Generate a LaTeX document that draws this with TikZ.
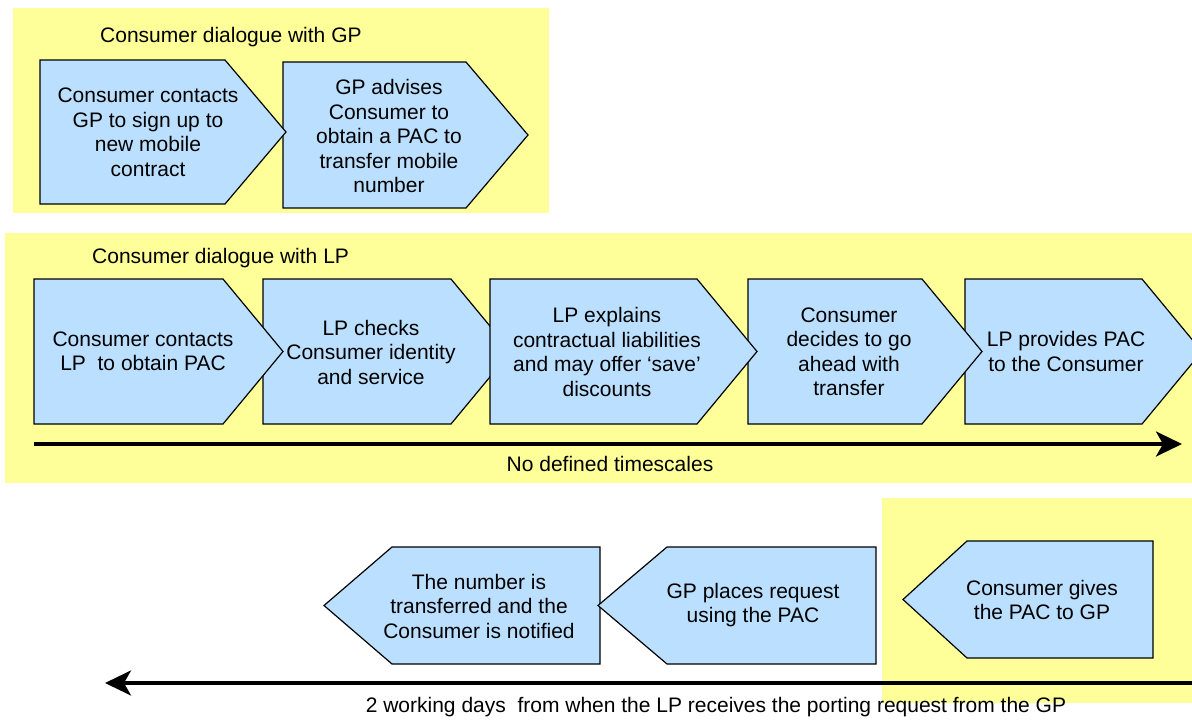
\documentclass[tikz,border=0pt]{standalone}
\usepackage{fontspec}
\setmainfont{Liberation Sans}
\usetikzlibrary{arrows.meta}
\definecolor{panelyellow}{RGB}{255,255,153}
\definecolor{stepblue}{RGB}{187,224,255}

\begin{document}
\begin{tikzpicture}[x=1pt,y=-1pt,
  panel/.style={fill=panelyellow,draw=none},
  chev/.style={fill=stepblue,draw=black,line width=1.2pt,line join=miter},
  txt/.style={align=center,inner sep=0pt,font=\fontsize{21}{24.5}\selectfont},
  timeline/.style={line width=3.5pt,-{Stealth[length=26pt,width=25pt,inset=7pt]}}]
  \useasboundingbox (0,0) rectangle (1192,720);
  \begin{scope}
   \fill[panel] (13,8) rectangle (549,213);
   \node[txt,anchor=west] (titleGP) at (100,37) {Consumer dialogue with GP};
   \filldraw[chev] (283,62) -- (466,62) -- (528,135) -- (466,208) -- (283,208) -- cycle;
   \filldraw[chev] (40,60) -- (225,60) -- (286,132) -- (225,204) -- (40,204) -- cycle;
   \node[txt] (gp1) at (148,132.5) {Consumer contacts\\GP to sign up to\\new mobile\\contract};
   \node[txt] (gp2) at (389,136) {GP advises\\Consumer to\\obtain a PAC to\\transfer mobile\\number};
  \end{scope}
  \begin{scope}
   \fill[panel] (5,233) rectangle (1192,483);
   \node[txt,anchor=west] (titleLP) at (92,258) {Consumer dialogue with LP};
   \filldraw[chev] (263,279) -- (451,279) -- (511,351.5) -- (451,424) -- (263,424) -- cycle;
   \filldraw[chev] (965,279) -- (1142,279) -- (1202,351.5) -- (1142,424) -- (965,424) -- cycle;
   \filldraw[chev] (748,279) -- (922,279) -- (982,351.5) -- (922,424) -- (748,424) -- cycle;
   \filldraw[chev] (490,279) -- (697,279) -- (757,351.5) -- (697,424) -- (490,424) -- cycle;
   \filldraw[chev] (34,279) -- (223,279) -- (283,351.5) -- (223,424) -- (34,424) -- cycle;
   \node[txt] (lp1) at (143,351.5) {Consumer contacts\\LP\ \ to obtain PAC};
   \node[txt] (lp2) at (371,352) {LP checks\\Consumer identity\\and service};
   \node[txt] (lp3) at (607,352) {LP explains\\contractual liabilities\\and may offer ‘save’\\discounts};
   \node[txt] (lp4) at (849,352) {Consumer\\decides to go\\ahead with\\transfer};
   \node[txt] (lp5) at (1066,351.5) {LP provides PAC\\to the Consumer};
   \coordinate (lpStart) at (34,444);
   \coordinate (lpEnd) at (1182,444);
   \draw[timeline] (lpStart) -- (lpEnd);
   \node[txt] (lpTime) at (610,464) {No defined timescales};
  \end{scope}
  \begin{scope}
   \fill[panel] (882,498) rectangle (1192,703);
   \filldraw[chev] (600,547) -- (392,547) -- (324,605.5) -- (392,664) -- (600,664) -- cycle;
   \filldraw[chev] (876,547) -- (667,547) -- (598,605.5) -- (667,664) -- (876,664) -- cycle;
   \filldraw[chev] (1153,541) -- (967,541) -- (903,599.5) -- (967,658) -- (1153,658) -- cycle;
   \node[txt] (port1) at (479,606) {The number is\\transferred and the\\Consumer is notified};
   \node[txt] (port2) at (753,605) {GP places request\\using the PAC};
   \node[txt] (port3) at (1042,600) {Consumer gives\\the PAC to GP};
   \coordinate (portStart) at (1192,683);
   \coordinate (portEnd) at (105,683);
   \draw[timeline] (portStart) -- (portEnd);
   \node[txt] (portTime) at (716,707) {2 working days\ \ from when the LP receives the porting request from the GP};
  \end{scope}
 \end{tikzpicture}
\end{document}
